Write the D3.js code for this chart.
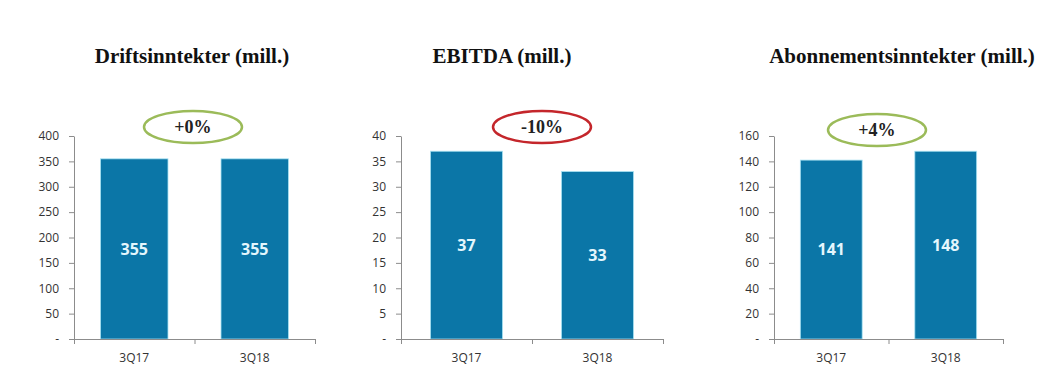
<!DOCTYPE html>
<html>
  <head>
    <meta charset="UTF-8">
    <title>Kvartalstall 3Q17 vs 3Q18</title>
    <script src="https://d3js.org/d3.v7.min.js"></script>
    <style>
      body { margin: 0; background: #fff; }
    </style>
  </head>
  <body>
    <div id="chart"></div>
    <script>
      // data
      const categories = ["3Q17", "3Q18"];
      const titles = ["Driftsinntekter (mill.)", "EBITDA (mill.)", "Abonnementsinntekter (mill.)"];
      const driftsinntekter = [355, 355];
      const ebitda = [37, 33];
      const abonnement = [141, 148];
      const yMaxes = [400, 40, 160];
      const yTickSteps = [50, 5, 20];
      const changes = ["+0%", "-10%", "+4%"];

      const seriesList = [driftsinntekter, ebitda, abonnement];

      // layout of each small chart (pixels)
      const panels = [
        {x0: 74, x1: 315, pad: 0.44, titleX: 192, ellX: 193, ellY: 127, ellColor: "#9bbb59"},
        {x0: 401, x1: 663, pad: 0.45, titleX: 502, ellX: 542, ellY: 127, ellColor: "#c4262b"},
        {x0: 774, x1: 1003, pad: 0.46, titleX: 902, ellX: 877, ellY: 130, ellColor: "#9bbb59"}
      ];
      const plotTop = 136, plotBase = 339;

      const svg = d3.select("#chart")
        .append("svg")
        .attr("width", 1058)
        .attr("height", 386);

      panels.forEach((p, i) => {
        const values = seriesList[i];
        const g = svg.append("g");

        const x = d3.scaleBand()
          .domain(categories)
          .range([p.x0, p.x1])
          .paddingInner(p.pad)
          .paddingOuter(p.pad / 2);

        const y = d3.scaleLinear()
          .domain([0, yMaxes[i]])
          .range([plotBase, plotTop]);

        // title
        g.append("text")
          .attr("x", p.titleX)
          .attr("y", 63)
          .attr("text-anchor", "middle")
          .style("font-family", "'Liberation Serif', 'Times New Roman', serif")
          .style("font-weight", "bold")
          .style("font-size", "21px")
          .attr("fill", "#111")
          .text(titles[i]);

        // bars
        g.selectAll("rect")
          .data(values)
          .join("rect")
          .attr("x", (d, j) => x(categories[j]))
          .attr("y", d => y(d))
          .attr("width", x.bandwidth())
          .attr("height", d => plotBase - y(d))
          .attr("fill", "#0b76a7")
          .attr("stroke", "#a8e2f2")
          .attr("stroke-width", 0.8);

        // y axis
        const ticks = d3.range(0, yMaxes[i] + yTickSteps[i] / 2, yTickSteps[i]);
        const yAxis = g.append("g")
          .attr("transform", `translate(${p.x0},0)`)
          .call(d3.axisLeft(y)
            .tickValues(ticks)
            .tickSizeInner(5)
            .tickSizeOuter(0)
            .tickPadding(10)
            .tickFormat(d => d === 0 ? "-" : d));
        yAxis.selectAll("path, line").attr("stroke", "#8c8c8c");
        yAxis.selectAll("text")
          .style("font-family", "'Open Sans', sans-serif")
          .style("font-size", "12px")
          .attr("fill", "#333");

        // x axis: ticks at band edges
        const edges = d3.scaleLinear().domain([0, categories.length]).range([p.x0, p.x1]);
        const xAxis = g.append("g")
          .attr("transform", `translate(0,${plotBase})`)
          .call(d3.axisBottom(edges)
            .tickValues(d3.range(0, categories.length + 1))
            .tickSizeInner(5)
            .tickSizeOuter(0)
            .tickFormat(""));
        xAxis.selectAll("path, line").attr("stroke", "#8c8c8c");

        const xLabels = g.append("g")
          .attr("transform", `translate(0,${plotBase})`)
          .call(d3.axisBottom(x).tickSize(0).tickPadding(14));
        xLabels.select(".domain").remove();
        xLabels.selectAll("text")
          .style("font-family", "'Open Sans', sans-serif")
          .style("font-size", "12px")
          .attr("fill", "#333");

        // value labels inside bars
        g.selectAll(".val")
          .data(values)
          .join("text")
          .attr("class", "val")
          .attr("x", (d, j) => x(categories[j]) + x.bandwidth() / 2)
          .attr("y", d => (y(d) + plotBase) / 2)
          .attr("dy", "0.35em")
          .attr("text-anchor", "middle")
          .style("font-family", "'Open Sans', sans-serif")
          .style("font-weight", "bold")
          .style("font-size", "16px")
          .attr("fill", "#e4f6fd")
          .text(d => d);

        // change bubble
        g.append("ellipse")
          .attr("cx", p.ellX)
          .attr("cy", p.ellY)
          .attr("rx", 49)
          .attr("ry", 16)
          .attr("fill", "none")
          .attr("stroke", p.ellColor)
          .attr("stroke-width", 2.5);

        g.append("text")
          .attr("x", p.ellX)
          .attr("y", p.ellY)
          .attr("dy", "0.35em")
          .attr("text-anchor", "middle")
          .style("font-family", "'Liberation Serif', 'Times New Roman', serif")
          .style("font-weight", "bold")
          .style("font-size", "18px")
          .attr("fill", "#222")
          .text(changes[i]);
      });
    </script>
  </body>
</html>
